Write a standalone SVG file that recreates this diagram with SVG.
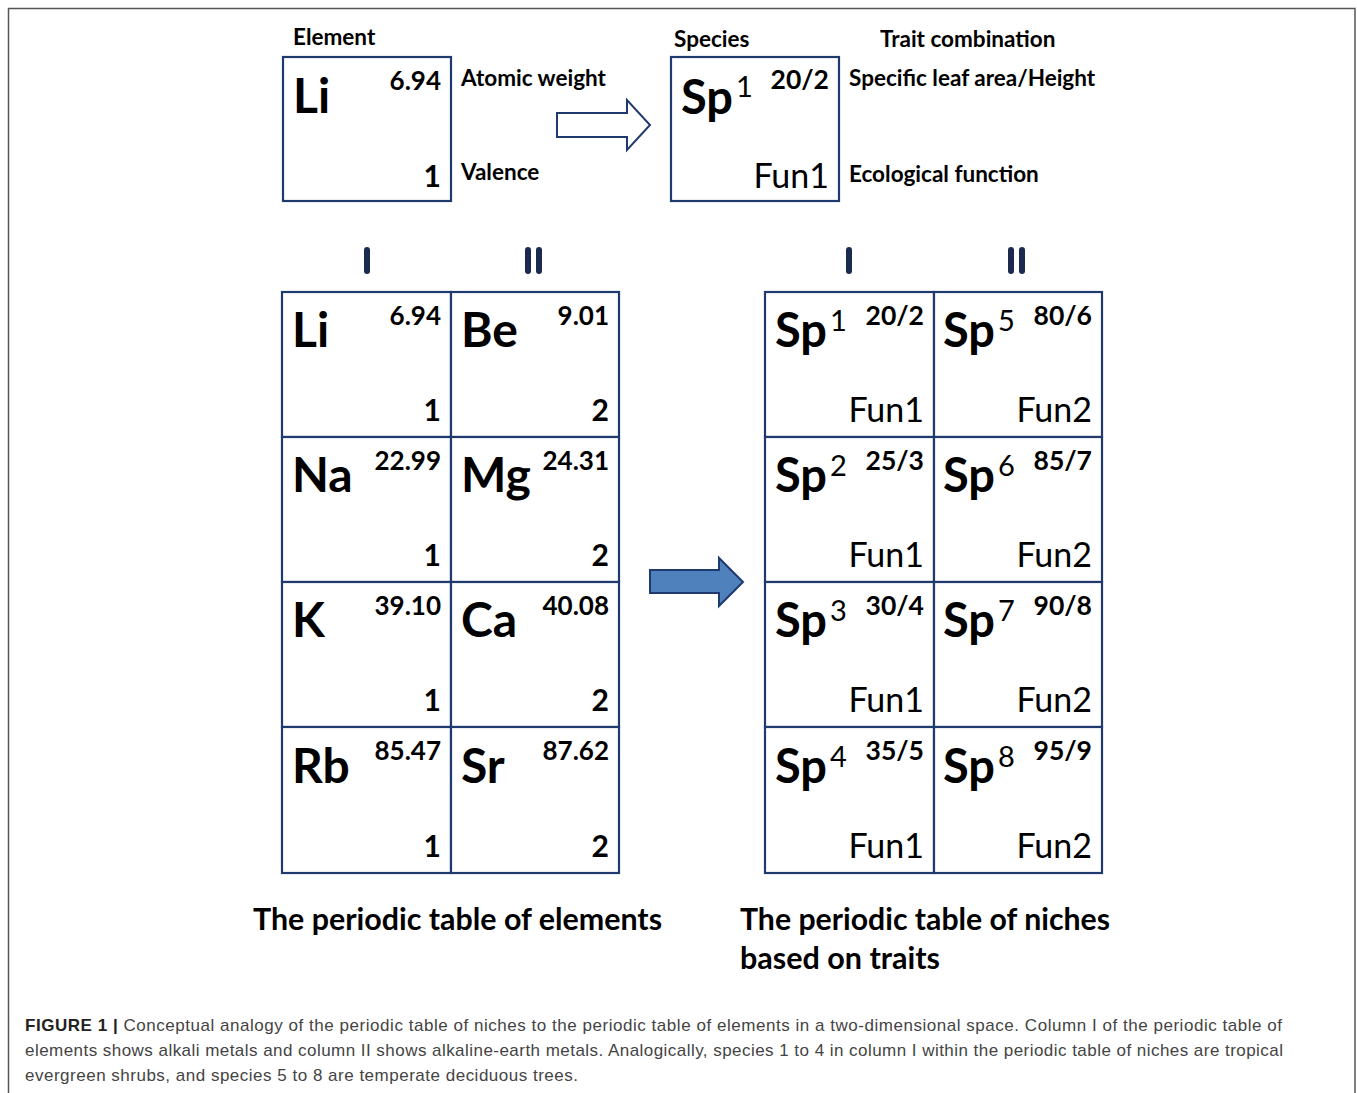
<svg xmlns="http://www.w3.org/2000/svg" width="1357" height="1093" viewBox="0 0 1357 1093">
<style>
.frame{fill:none;stroke:#555;stroke-width:1.5}
.box{fill:#fff;stroke:#1f3a6e;stroke-width:2.2}
.lab{font-family:Lato,"Open Sans",sans-serif;font-weight:bold;font-size:22.5px;fill:#000}
.sym{font-family:Lato,"Open Sans",sans-serif;font-weight:bold;font-size:48px;fill:#000}
.sp{font-family:Lato,"Open Sans",sans-serif;font-weight:bold;font-size:47px;fill:#000}
.wt{font-family:Lato,"Open Sans",sans-serif;font-weight:bold;font-size:26px;fill:#000;text-anchor:end}
.val{font-family:Lato,"Open Sans",sans-serif;font-weight:bold;font-size:30px;fill:#000;text-anchor:end}
.sup{font-family:Lato,"Open Sans",sans-serif;font-size:29px;fill:#000}
.fun{font-family:Lato,"Open Sans",sans-serif;font-size:34px;fill:#000;text-anchor:end}
.rat{font-family:Lato,"Open Sans",sans-serif;font-weight:bold;font-size:26.5px;fill:#000;text-anchor:end}
.rom{stroke:#1b2a4e;stroke-width:6;stroke-linecap:round}
.title{font-family:Lato,"Open Sans",sans-serif;font-weight:bold;font-size:30px;fill:#000}
.cap{font-family:"Liberation Sans",Arial,sans-serif;font-size:17px;fill:#444}
</style>
<rect class="frame" x="8.5" y="8.5" width="1346.5" height="1110"/>

<g id="legend-element">
<text class="lab" x="293" y="45">Element</text>
<rect class="box" x="283" y="57" width="168" height="144"/>
<text class="sym" x="293" y="113">Li</text>
<text class="wt" x="441" y="90">6.94</text>
<text class="val" x="441" y="187">1</text>
<text class="lab" x="461" y="86">Atomic weight</text>
<text class="lab" x="461" y="180">Valence</text>
</g>

<g id="legend-species">
<text class="lab" x="674" y="47">Species</text>
<text class="lab" x="880" y="47">Trait combination</text>
<rect class="box" x="671" y="57" width="168" height="144"/>
<text class="sp" x="681" y="114">Sp</text>
<text class="sup" x="736" y="97">1</text>
<text class="rat" x="829" y="89">20/2</text>
<text class="fun" x="829" y="188">Fun1</text>
<text class="lab" x="849" y="86">Specific leaf area/Height</text>
<text class="lab" x="849" y="182">Ecological function</text>
</g>

<g id="connectors">
<path d="M557,113 H627 V100 L650,125 L627,150 V137 H557 Z" fill="#fff" stroke="#1f3a6e" stroke-width="2"/>
<path d="M650,570 H719 V558 L743,582 L719,606 V593 H650 Z" fill="#4f81bd" stroke="#1f3a6e" stroke-width="2"/>
</g>

<g id="roman-left">
<line class="rom" x1="367" y1="250" x2="367" y2="271"/>
<line class="rom" x1="528" y1="250" x2="528" y2="271"/>
<line class="rom" x1="539" y1="250" x2="539" y2="271"/>
</g>
<g id="roman-right">
<line class="rom" x1="849" y1="250" x2="849" y2="271"/>
<line class="rom" x1="1011" y1="250" x2="1011" y2="271"/>
<line class="rom" x1="1022" y1="250" x2="1022" y2="271"/>
</g>

<g id="elements-table">
<g id="cell-Li"><rect class="box" x="282" y="292" width="169" height="145"/><text class="sym" x="292" y="347">Li</text><text class="wt" x="441" y="325">6.94</text><text class="val" x="441" y="421">1</text></g>
<g id="cell-Be"><rect class="box" x="451" y="292" width="168" height="145"/><text class="sym" x="461" y="347">Be</text><text class="wt" x="609" y="325">9.01</text><text class="val" x="609" y="421">2</text></g>
<g id="cell-Na"><rect class="box" x="282" y="437" width="169" height="145"/><text class="sym" x="292" y="492">Na</text><text class="wt" x="441" y="470">22.99</text><text class="val" x="441" y="566">1</text></g>
<g id="cell-Mg"><rect class="box" x="451" y="437" width="168" height="145"/><text class="sym" x="461" y="492">Mg</text><text class="wt" x="609" y="470">24.31</text><text class="val" x="609" y="566">2</text></g>
<g id="cell-K"><rect class="box" x="282" y="582" width="169" height="145"/><text class="sym" x="292" y="637">K</text><text class="wt" x="441" y="615">39.10</text><text class="val" x="441" y="711">1</text></g>
<g id="cell-Ca"><rect class="box" x="451" y="582" width="168" height="145"/><text class="sym" x="461" y="637">Ca</text><text class="wt" x="609" y="615">40.08</text><text class="val" x="609" y="711">2</text></g>
<g id="cell-Rb"><rect class="box" x="282" y="727" width="169" height="146"/><text class="sym" x="292" y="783">Rb</text><text class="wt" x="441" y="760">85.47</text><text class="val" x="441" y="857">1</text></g>
<g id="cell-Sr"><rect class="box" x="451" y="727" width="168" height="146"/><text class="sym" x="461" y="783">Sr</text><text class="wt" x="609" y="760">87.62</text><text class="val" x="609" y="857">2</text></g>
</g>

<g id="niches-table">
<g id="cell-Sp1"><rect class="box" x="765" y="292" width="169" height="145"/><text class="sp" x="775" y="347">Sp</text><text class="sup" x="830" y="331">1</text><text class="rat" x="924" y="325">20/2</text><text class="fun" x="924" y="422">Fun1</text></g>
<g id="cell-Sp5"><rect class="box" x="934" y="292" width="168" height="145"/><text class="sp" x="943" y="347">Sp</text><text class="sup" x="998" y="331">5</text><text class="rat" x="1092" y="325">80/6</text><text class="fun" x="1092" y="422">Fun2</text></g>
<g id="cell-Sp2"><rect class="box" x="765" y="437" width="169" height="145"/><text class="sp" x="775" y="492">Sp</text><text class="sup" x="830" y="476">2</text><text class="rat" x="924" y="470">25/3</text><text class="fun" x="924" y="567">Fun1</text></g>
<g id="cell-Sp6"><rect class="box" x="934" y="437" width="168" height="145"/><text class="sp" x="943" y="492">Sp</text><text class="sup" x="998" y="476">6</text><text class="rat" x="1092" y="470">85/7</text><text class="fun" x="1092" y="567">Fun2</text></g>
<g id="cell-Sp3"><rect class="box" x="765" y="582" width="169" height="145"/><text class="sp" x="775" y="637">Sp</text><text class="sup" x="830" y="621">3</text><text class="rat" x="924" y="615">30/4</text><text class="fun" x="924" y="712">Fun1</text></g>
<g id="cell-Sp7"><rect class="box" x="934" y="582" width="168" height="145"/><text class="sp" x="943" y="637">Sp</text><text class="sup" x="998" y="621">7</text><text class="rat" x="1092" y="615">90/8</text><text class="fun" x="1092" y="712">Fun2</text></g>
<g id="cell-Sp4"><rect class="box" x="765" y="727" width="169" height="146"/><text class="sp" x="775" y="783">Sp</text><text class="sup" x="830" y="767">4</text><text class="rat" x="924" y="760">35/5</text><text class="fun" x="924" y="858">Fun1</text></g>
<g id="cell-Sp8"><rect class="box" x="934" y="727" width="168" height="146"/><text class="sp" x="943" y="783">Sp</text><text class="sup" x="998" y="767">8</text><text class="rat" x="1092" y="760">95/9</text><text class="fun" x="1092" y="858">Fun2</text></g>
</g>

<g id="titles">
<text class="title" x="253" y="930" textLength="409" lengthAdjust="spacingAndGlyphs">The periodic table of elements</text>
<text class="title" x="740" y="930" textLength="370" lengthAdjust="spacingAndGlyphs">The periodic table of niches</text>
<text class="title" x="740" y="969" textLength="200" lengthAdjust="spacingAndGlyphs">based on traits</text>
</g>

<g id="caption">
<text class="cap" x="25" y="1031" textLength="1257" lengthAdjust="spacing"><tspan font-weight="bold" fill="#222">FIGURE 1 |</tspan> Conceptual analogy of the periodic table of niches to the periodic table of elements in a two-dimensional space. Column I of the periodic table of</text>
<text class="cap" x="25" y="1056" textLength="1258" lengthAdjust="spacing">elements shows alkali metals and column II shows alkaline-earth metals. Analogically, species 1 to 4 in column I within the periodic table of niches are tropical</text>
<text class="cap" x="25" y="1081" textLength="553" lengthAdjust="spacing">evergreen shrubs, and species 5 to 8 are temperate deciduous trees.</text>
</g>
</svg>
